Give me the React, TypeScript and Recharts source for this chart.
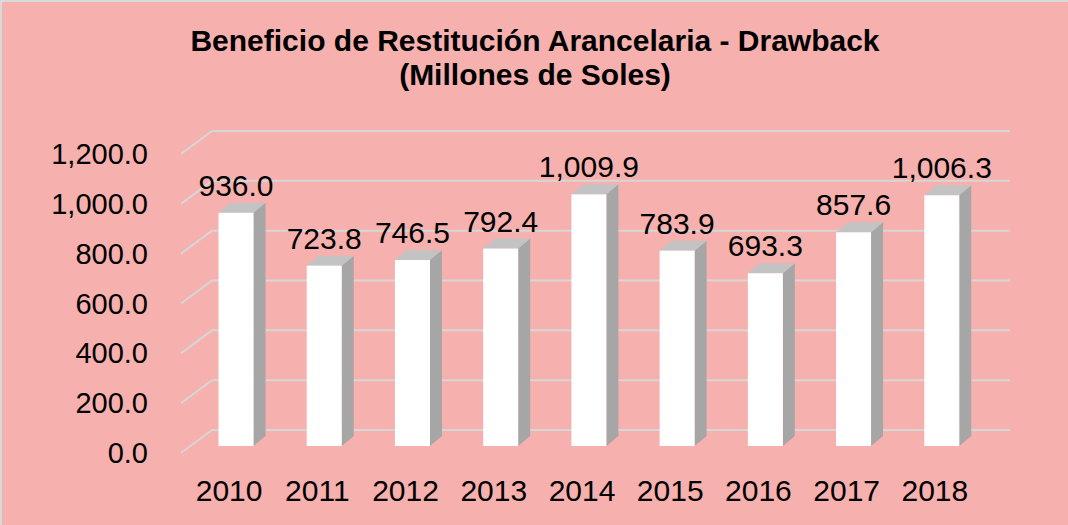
import { BarChart, Bar, XAxis, YAxis, CartesianGrid, LabelList } from "recharts";

const years = ["2010", "2011", "2012", "2013", "2014", "2015", "2016", "2017", "2018"];
const drawback = [936.0, 723.8, 746.5, 792.4, 1009.9, 783.9, 693.3, 857.6, 1006.3];
const yTicks = [0, 200, 400, 600, 800, 1000, 1200];

const data = years.map((year, i) => ({ year, value: drawback[i] }));

const BG = "#f6b0ae";
const FONT = "'Liberation Sans', Arial, sans-serif";
const DX = 12; // bar depth
const DY = 10;
const SHIFT = 6.5; // front face offset from category centre

const fmt = (v: number) =>
  v.toLocaleString("en-US", { minimumFractionDigits: 1, maximumFractionDigits: 1 });

const Bar3D = (props: any) => {
  const { x, y, width, height } = props;
  const fx = x + SHIFT;
  return (
    <g>
      <polygon
        points={`${fx + width},${y} ${fx + width + DX},${y - DY} ${fx + width + DX},${y + height - DY} ${fx + width},${y + height}`}
        fill="#a6a6a6"
      />
      <polygon
        points={`${fx},${y} ${fx + DX},${y - DY} ${fx + width + DX},${y - DY} ${fx + width},${y}`}
        fill="#c3c3c3"
      />
      <rect x={fx} y={y} width={width} height={height} fill="#ffffff" />
    </g>
  );
};

const gridLine = (props: any) => {
  const { y1, key } = props;
  return (
    <polyline
      key={key}
      points={`181,${y1 + 7} 212,${y1 - 16} 1010,${y1 - 16}`}
      fill="none"
      stroke="#d6d6d6"
      strokeWidth={2}
    />
  );
};

const YTick = (props: any) => {
  const { y, payload } = props;
  return (
    <text x={148} y={y + 7} textAnchor="end" dominantBaseline="central" fontSize={29} fontFamily={FONT} fill="#000">
      {fmt(payload.value)}
    </text>
  );
};

const XTick = (props: any) => {
  const { x, payload } = props;
  return (
    <text x={x} y={490} textAnchor="middle" dominantBaseline="central" fontSize={30} fontFamily={FONT} fill="#000">
      {payload.value}
    </text>
  );
};

const ValueLabel = (props: any) => {
  const { x, y, width, value } = props;
  return (
    <text x={x + SHIFT + width / 2} y={y - 17} textAnchor="middle" fontSize={30} fontFamily={FONT} fill="#000">
      {fmt(value)}
    </text>
  );
};

export default function App() {
  return (
    <div
      style={{
        position: "absolute",
        left: 0,
        top: 0,
        width: 1068,
        height: 525,
        background: BG,
        boxSizing: "border-box",
        borderTop: "2px solid #d9d9d9",
        borderLeft: "2px solid #d9d9d9",
      }}
    >
      <div
        style={{
          position: "absolute",
          left: 0,
          top: 0,
          width: 1068,
          textAlign: "center",
          fontFamily: FONT,
          fontWeight: "bold",
          fontSize: 30,
          lineHeight: "34px",
          paddingTop: 22,
          color: "#000",
        }}
      >
        <div style={{ marginLeft: -2 }}>Beneficio de Restitución Arancelaria - Drawback</div>
        <div style={{ marginLeft: -2 }}>(Millones de Soles)</div>
      </div>
      <div style={{ position: "absolute", left: -2, top: -2 }}>
        <BarChart width={1068} height={525} data={data} margin={{ top: 147, right: 89, bottom: 0, left: 0 }}>
          <CartesianGrid vertical={false} horizontal={gridLine} />
          <XAxis dataKey="year" axisLine={false} tickLine={false} tick={<XTick />} height={79} />
          <YAxis
            domain={[0, 1200]}
            ticks={yTicks}
            axisLine={false}
            tickLine={false}
            tick={<YTick />}
            width={185}
          />
          <Bar dataKey="value" barSize={35} shape={<Bar3D />} isAnimationActive={false}>
            <LabelList dataKey="value" content={<ValueLabel />} />
          </Bar>
        </BarChart>
      </div>
    </div>
  );
}
